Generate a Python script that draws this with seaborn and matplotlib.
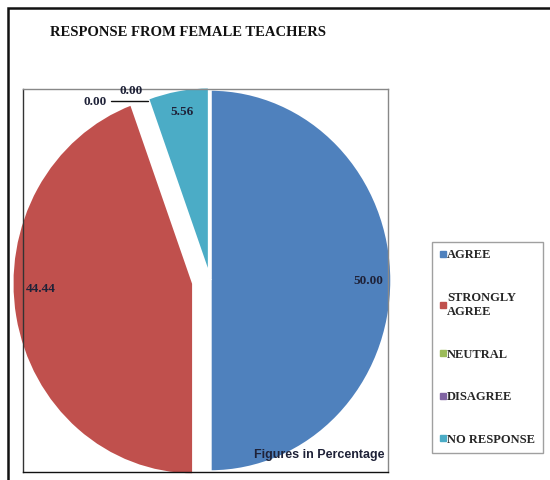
import matplotlib
matplotlib.use("Agg")
import matplotlib.pyplot as plt
import seaborn as sns
import numpy as np
from matplotlib.patches import Rectangle
from matplotlib.lines import Line2D

# data
categories = ["AGREE", "STRONGLY\nAGREE", "NEUTRAL", "DISAGREE", "NO RESPONSE"]
values = [50.00, 44.44, 0.00, 0.00, 5.56]
labels = ["50.00", "44.44", "0.00", "0.00", "5.56"]
colors = ["#4F81BD", "#C0504D", "#9BBB59", "#8064A2", "#4BACC6"]

sns.set_theme(style="white")
plt.rcParams["font.family"] = ["Liberation Serif", "DejaVu Serif"]

fig = plt.figure(figsize=(5.5, 4.8), dpi=100)
fig.patch.set_facecolor("white")

# outer frame (runs off the right / bottom edge as in the reference)
fig.patches.append(Rectangle((8 / 550, -0.2), 1.5, 1.2 - 8 / 480, transform=fig.transFigure,
                             fill=False, edgecolor="#111111", linewidth=1.8, zorder=0))

ax = fig.add_axes([23 / 550, 8 / 480, 365 / 550, 383 / 480])
pal = sns.color_palette(colors)
wedges, _ = ax.pie(values, colors=pal, startangle=90, counterclock=False,
                   explode=[0.0, 0.09, 0.0, 0.0, 0.012],
                   wedgeprops=dict(edgecolor="white", linewidth=2.5),
                   normalize=True)
ax.set_aspect("auto")
ax.set_xlim(-1.027, 0.978)
ax.set_ylim(-1.0, 1.0)
for w in wedges:
    w.set_clip_on(False)
ax.set_frame_on(True)
ax.set_xticks([])
ax.set_yticks([])
for s in ax.spines.values():
    s.set_visible(True)
    s.set_linewidth(1.0)
ax.spines["top"].set_color("#888888")
ax.spines["right"].set_color("#888888")
ax.spines["left"].set_color("#333333")
ax.spines["bottom"].set_color("#111111")

# Excel-like "best fit" label placement: radius and angle shift per slice
label_r = [0.87, 0.84, 0, 0, 0.88]
label_shift = [0, -8, 0, 0, 0]
lab_kw = dict(fontsize=9.5, fontweight="bold", color="#1f2238", ha="center", va="center")
for w, lab, v, r, sh in zip(wedges, labels, values, label_r, label_shift):
    ang = np.deg2rad((w.theta1 + w.theta2) / 2 + sh)
    cx, cy = w.center
    if v > 0:
        ax.text(cx + r * np.cos(ang), cy + r * np.sin(ang), lab, **lab_kw)

# zero-size slices: labels outside with leader line
tip_ang = np.deg2rad(wedges[2].theta1)
tx, ty = np.cos(tip_ang), np.sin(tip_ang)
ax.plot([tx - 0.2, tx], [ty, ty], color="#111111", linewidth=1.0, clip_on=False)
ax.text(tx - 0.29, ty - 0.005, labels[2], **lab_kw)
ax.text(tx - 0.09, ty + 0.05, labels[3], **lab_kw)

ax.text(0.99, 0.045, "Figures in Percentage", transform=ax.transAxes, ha="right", va="center",
        fontsize=9, fontweight="bold", color="#1f2238", family=["Liberation Sans", "DejaVu Sans"])

fig.text(50 / 550, 1 - 32 / 480, "RESPONSE FROM FEMALE TEACHERS", ha="left", va="center",
         fontsize=10.5, fontweight="bold", color="#111111")

handles = [Line2D([], [], linestyle="none", marker="s", markersize=5, color=c) for c in pal]
leg = fig.legend(handles, categories, loc="upper left", bbox_to_anchor=(432 / 550, 1 - 242 / 480),
                 frameon=True, fancybox=False, prop=dict(size=9, weight="bold"),
                 handlelength=0.5, handletextpad=0.1, labelspacing=2.45,
                 borderpad=0.6, borderaxespad=0)
leg.get_frame().set_edgecolor("#888888")
leg.get_frame().set_linewidth(1.0)

fig.savefig("out.png", dpi=100)
